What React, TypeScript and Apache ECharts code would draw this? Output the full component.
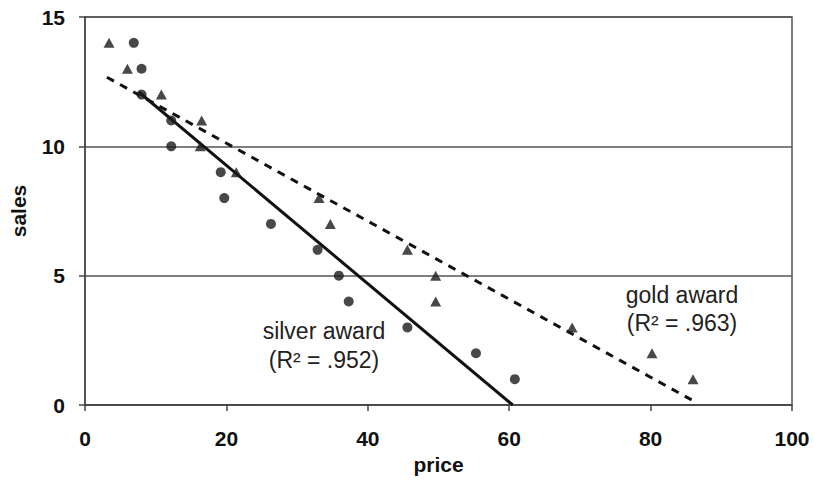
import React, { useEffect, useRef } from "react";
import * as echarts from "echarts";

// sales (y) by price (x)
const silverPrice = [6.9, 8.0, 8.0, 12.2, 12.2, 19.2, 19.7, 26.3, 32.9, 35.9, 37.3, 45.6, 55.3, 60.8];
const silverSales = [14, 13, 12, 11, 10, 9, 8, 7, 6, 5, 4, 3, 2, 1];
const goldPrice = [3.4, 6.0, 10.8, 16.5, 16.3, 21.4, 33.1, 34.7, 45.6, 49.6, 49.6, 68.9, 80.2, 86.0];
const goldSales = [14, 13, 12, 11, 10, 9, 8, 7, 6, 5, 4, 3, 2, 1];

// trend lines (start / end points)
const silverTrendX = [7.6, 60.5];
const silverTrendY = [12.1, 0];
const goldTrendX = [3.1, 85.8];
const goldTrendY = [12.67, 0.2];

const xTicks = [0, 20, 40, 60, 80, 100];
const yTicks = [0, 5, 10, 15];

const FONT = '"Liberation Sans", Arial, sans-serif';

export default function App() {
  const ref = useRef<HTMLDivElement>(null);
  useEffect(() => {
    document.body.style.margin = "0";
    if (!ref.current) return;
    const chart = echarts.init(ref.current, null, { renderer: "svg" });
    const pair = (xs: number[], ys: number[]) => xs.map((x, i) => [x, ys[i]]);
    chart.setOption({
      animation: false,
      backgroundColor: "#ffffff",
      textStyle: { fontFamily: FONT },
      grid: {
        left: 83,
        right: 22,
        top: 17,
        bottom: 84,
        show: true,
        borderColor: "#555",
        borderWidth: 1.5,
        backgroundColor: "transparent",
      },
      xAxis: {
        type: "value",
        min: xTicks[0],
        max: xTicks[xTicks.length - 1],
        interval: xTicks[1] - xTicks[0],
        name: "price",
        nameLocation: "middle",
        nameGap: 47,
        nameTextStyle: { fontFamily: FONT, fontWeight: "bold", fontSize: 21, color: "#111" },
        axisLine: { show: true, lineStyle: { color: "#444", width: 1.5 } },
        axisTick: { show: true, length: 6, lineStyle: { color: "#444", width: 1.5 } },
        axisLabel: { fontFamily: FONT, fontWeight: "bold", fontSize: 21, color: "#111", margin: 23 },
        splitLine: { show: false },
      },
      yAxis: {
        type: "value",
        min: yTicks[0],
        max: yTicks[yTicks.length - 1],
        interval: yTicks[1] - yTicks[0],
        name: "sales",
        nameLocation: "middle",
        nameGap: 56,
        nameRotate: 90,
        nameTextStyle: { fontFamily: FONT, fontWeight: "bold", fontSize: 21, color: "#111" },
        axisLine: { show: true, lineStyle: { color: "#444", width: 1.5 } },
        axisTick: { show: true, length: 6, lineStyle: { color: "#444", width: 1.5 } },
        axisLabel: { fontFamily: FONT, fontWeight: "bold", fontSize: 21, color: "#111", margin: 20 },
        splitLine: { show: true, lineStyle: { color: "#555", width: 1.5 } },
      },
      series: [
        {
          name: "silver trend",
          type: "line",
          data: pair(silverTrendX, silverTrendY),
          symbol: "none",
          lineStyle: { color: "#111", width: 3 },
          z: 3,
        },
        {
          name: "gold trend",
          type: "line",
          data: pair(goldTrendX, goldTrendY),
          symbol: "none",
          lineStyle: { color: "#111", width: 3, type: [8, 7] },
          z: 3,
        },
        {
          name: "silver award",
          type: "scatter",
          data: pair(silverPrice, silverSales),
          symbol: "circle",
          symbolSize: 10,
          itemStyle: { color: "#1a1a1a" },
          z: 4,
        },
        {
          name: "gold award",
          type: "scatter",
          data: pair(goldPrice, goldSales),
          symbol: "triangle",
          symbolSize: [11, 10],
          itemStyle: { color: "#1a1a1a" },
          z: 4,
        },
      ],
      graphic: [
        {
          type: "text",
          x: 324,
          y: 345,
          z: 10,
          style: {
            text: "silver award\n(R² = .952)",
            align: "center",
            verticalAlign: "middle",
            fontFamily: FONT,
            fontSize: 23,
            lineHeight: 29,
            fill: "#222",
          },
        },
        {
          type: "text",
          x: 682,
          y: 309,
          z: 10,
          style: {
            text: "gold award\n(R² = .963)",
            align: "center",
            verticalAlign: "middle",
            fontFamily: FONT,
            fontSize: 23,
            lineHeight: 28,
            fill: "#222",
          },
        },
      ],
    });
    return () => chart.dispose();
  }, []);
  return <div ref={ref} style={{ width: 814, height: 489 }} />;
}
